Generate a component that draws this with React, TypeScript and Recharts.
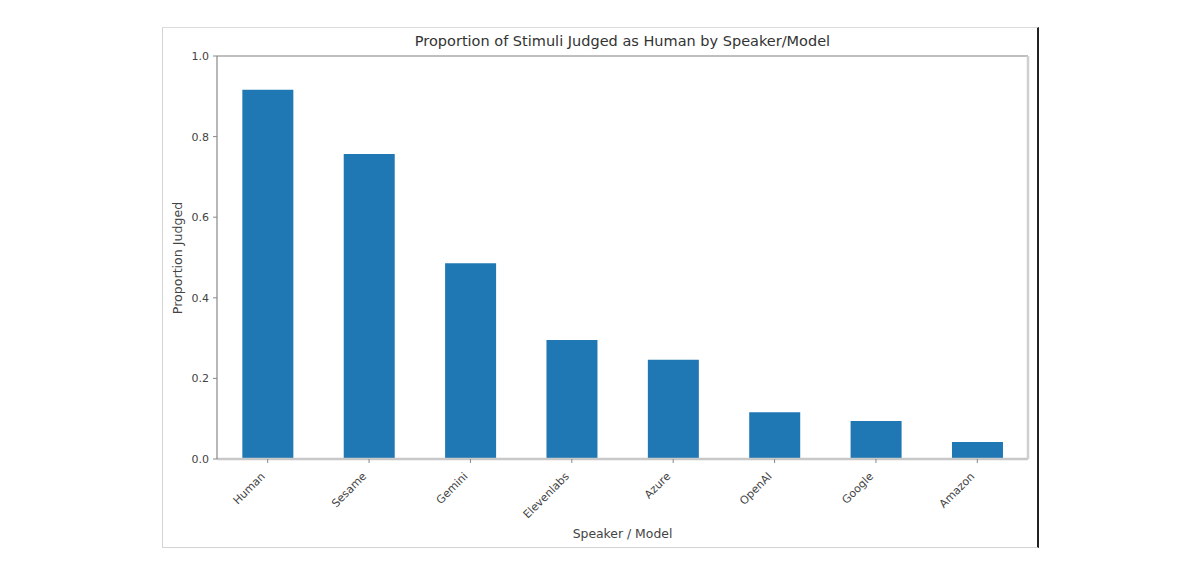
import React from 'react';
import { BarChart, Bar, XAxis, YAxis } from 'recharts';

const speakers = ['Human', 'Sesame', 'Gemini', 'Elevenlabs', 'Azure', 'OpenAI', 'Google', 'Amazon'];
const proportions = [0.916, 0.757, 0.486, 0.295, 0.246, 0.116, 0.094, 0.042];
const yTicks = [0, 0.2, 0.4, 0.6, 0.8, 1.0];

const data = speakers.map((name, i) => ({ name, value: proportions[i] }));

const FONT = '"DejaVu Sans", sans-serif';

const XTick = (props: any) => {
  const { x, y, payload } = props;
  const px = x - 2;
  const py = y + 12;
  return (
    <text
      x={px}
      y={py}
      transform={`rotate(-45 ${px} ${py})`}
      textAnchor="end"
      fontSize={11}
      fontFamily={FONT}
      fill="#444"
    >
      {payload.value}
    </text>
  );
};

export default function App() {
  return (
    <div style={{ position: 'absolute', left: 0, top: 0, width: 1200, height: 576, background: '#fff' }}>
      <div
        style={{
          position: 'absolute',
          left: 162,
          top: 27,
          width: 877,
          height: 521,
          borderLeft: '1.5px solid #d4d4d4',
          borderTop: '1.5px solid #dcdcdc',
          borderBottom: '1.5px solid #d4d4d4',
          borderRight: '2px solid #222',
          boxSizing: 'border-box',
        }}
      />
      <div
        style={{
          position: 'absolute',
          left: 217,
          width: 811,
          top: 33,
          textAlign: 'center',
          fontFamily: FONT,
          fontSize: 14.5,
          color: '#333',
          letterSpacing: 0,
        }}
      >
        Proportion of Stimuli Judged as Human by Speaker/Model
      </div>
      <div
        style={{
          position: 'absolute',
          left: 217,
          width: 811,
          top: 526,
          textAlign: 'center',
          fontFamily: FONT,
          fontSize: 12.4,
          color: '#444',
        }}
      >
        Speaker / Model
      </div>
      <div
        style={{
          position: 'absolute',
          left: 177,
          top: 258,
          transform: 'translate(-50%, -50%) rotate(-90deg)',
          whiteSpace: 'nowrap',
          fontFamily: FONT,
          fontSize: 12.6,
          color: '#444',
        }}
      >
        Proportion Judged
      </div>
      <div style={{ position: 'absolute', left: 0, top: 0 }}>
        <BarChart
          width={1200}
          height={576}
          data={data}
          margin={{ top: 55, right: 171, bottom: 57, left: 177 }}
          barCategoryGap="25%"
        >
          <XAxis
            dataKey="name"
            xAxisId="bottom"
            interval={0}
            height={60}
            tickSize={4}
            tick={<XTick />}
            axisLine={{ stroke: '#c8c8c8', strokeWidth: 2.5 }}
            tickLine={{ stroke: '#888' }}
          />
          <XAxis
            dataKey="name"
            xAxisId="top"
            orientation="top"
            height={1}
            tick={false}
            tickLine={false}
            axisLine={{ stroke: '#aaa', strokeWidth: 1.5 }}
          />
          <YAxis
            yAxisId="left"
            domain={[0, 1]}
            ticks={yTicks}
            width={40}
            tickSize={4}
            tickMargin={4}
            tickFormatter={(v: number) => v.toFixed(1)}
            tick={{ fontSize: 11, fontFamily: FONT, fill: '#444' }}
            axisLine={{ stroke: '#888', strokeWidth: 1.2 }}
            tickLine={{ stroke: '#888' }}
          />
          <YAxis
            yAxisId="right"
            orientation="right"
            domain={[0, 1]}
            width={1}
            tick={false}
            tickLine={false}
            axisLine={{ stroke: '#cfcfcf', strokeWidth: 2.5 }}
          />
          <Bar
            dataKey="value"
            xAxisId="bottom"
            yAxisId="left"
            fill="#1f77b4"
            isAnimationActive={false}
          />
        </BarChart>
      </div>
    </div>
  );
}
